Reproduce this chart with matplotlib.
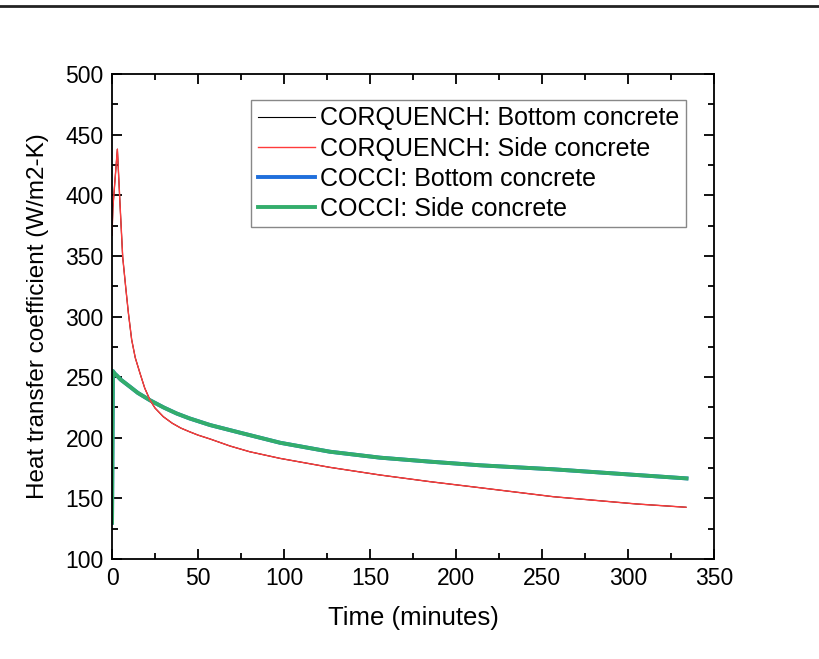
import matplotlib
matplotlib.use("Agg")
import matplotlib.pyplot as plt
from matplotlib.ticker import MultipleLocator
from matplotlib.lines import Line2D

plt.rcParams['font.family'] = ['Liberation Sans', 'DejaVu Sans']

# CORQUENCH side concrete (bottom concrete lies underneath, same values)
corq_time = [0, 0.5, 3.1, 4.7, 6.2, 8.1, 9.5, 11.4, 13.5, 16.3, 19, 22.1, 25,
             29.8, 35, 40, 45, 50, 57, 68.6, 80, 97.7, 126.7, 155.8, 184.9,
             214, 256.6, 305, 333.7]
corq_side = [367, 390, 438, 391, 349, 322, 303, 281, 266, 253, 241, 231, 224.5,
             217.4, 212, 208, 205, 202.2, 199, 193.2, 188.5, 183, 175.6, 169.3,
             163.8, 158.8, 151.4, 145.4, 142.7]
corq_bottom = corq_side

# COCCI side concrete (bottom concrete hidden underneath)
cocci_time = [0, 0.5, 1.5, 3, 5, 10.5, 15, 22, 30, 37.6, 45, 57, 74.4, 97.7,
              126.7, 155.8, 184.9, 214, 256.6, 305, 334]
cocci_side = [130, 255, 253, 251, 248, 242, 237, 231, 225, 220, 216, 210.5,
              204.2, 195.9, 188.5, 183.6, 180.3, 177.3, 174, 169.3, 166.5]
cocci_bottom = cocci_side

fig = plt.figure(figsize=(8.19, 6.59), dpi=100)
ax = fig.add_axes([0.1368, 0.1517, 0.735, 0.736])

ax.plot(corq_time, corq_bottom, color='black', lw=0.8, label='CORQUENCH: Bottom concrete')
ax.plot(cocci_time, cocci_bottom, color='#1f6fdc', lw=2.8, label='COCCI: Bottom concrete')
ax.plot(cocci_time, cocci_side, color='#33ad6b', lw=2.8, label='COCCI: Side concrete')
ax.plot(corq_time, corq_side, color='#ff3b3b', lw=1.0, label='CORQUENCH: Side concrete')

ax.set_xlim(0, 350)
ax.set_ylim(100, 500)
ax.xaxis.set_major_locator(MultipleLocator(50))
ax.xaxis.set_minor_locator(MultipleLocator(25))
ax.yaxis.set_major_locator(MultipleLocator(50))
ax.yaxis.set_minor_locator(MultipleLocator(25))
ax.tick_params(which='both', direction='in', top=True, right=True, width=1.3,
               labelsize=16.5, pad=6)
ax.tick_params(which='major', length=7)
ax.tick_params(which='minor', length=4)
for s in ax.spines.values():
    s.set_linewidth(1.3)

ax.set_xlabel('Time (minutes)', fontsize=18.5, labelpad=11)
ax.set_ylabel('Heat transfer coefficient (W/m2-K)', fontsize=17.5, labelpad=12)

h, l = ax.get_legend_handles_labels()
order = [0, 3, 1, 2]
leg = ax.legend([h[i] for i in order], [l[i] for i in order], loc='upper right',
                bbox_to_anchor=(0.953, 0.946), fontsize=18, fancybox=False,
                edgecolor='#888888', framealpha=1, handlelength=2.3,
                handletextpad=0.2, borderpad=0.25, labelspacing=0.25,
                borderaxespad=0)
leg.get_frame().set_linewidth(1.0)

# screenshot frame line at the top
fig.add_artist(Line2D([0, 1], [1 - 6 / 659, 1 - 6 / 659], color='#222222', lw=2,
                      transform=fig.transFigure))

fig.savefig('out.png', dpi=100)
